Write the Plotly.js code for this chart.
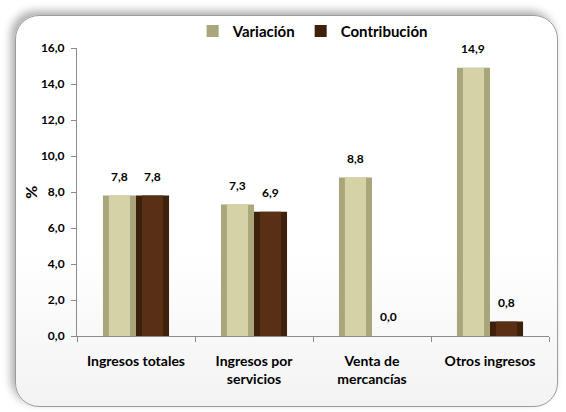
<!DOCTYPE html>
<html>
<head>
<meta charset="utf-8">
<script src="https://cdn.plot.ly/plotly-3.0.1.min.js"></script>
<style>
  html, body { margin:0; padding:0; background:#ffffff; }
  #wrap { position:relative; width:566px; height:412px; overflow:hidden; background:#ffffff; }
  #frame { position:absolute; left:15px; top:15px; width:541px; height:390px;
           border:1px solid #9c9c9c; border-radius:24px;
           background:linear-gradient(#ffffff 0%, #ffffff 60%, #f3f3f3 100%);
           box-shadow:-4px -4px 8px rgba(0,0,0,0.32); }
  #chart { position:absolute; left:0; top:0; width:566px; height:412px; }
</style>
</head>
<body>
<div id="wrap">
  <div id="frame"></div>
  <div id="chart"></div>
</div>
<script>
const categories = ["Ingresos totales", "Ingresos por<br>servicios", "Venta de<br>mercancías", "Otros ingresos"];
const variacion = [7.8, 7.3, 8.8, 14.9];
const contribucion = [7.8, 6.9, 0.0, 0.8];
const seriesNames = ["Variación", "Contribución"];
const yTicks = [0, 2, 4, 6, 8, 10, 12, 14, 16];

const FONT = "Lato, 'Open Sans', sans-serif";
const W = 0.28;

function barTrace(y, offset, width, color, name, legend) {
  return {
    type: "bar", x: categories, y: y, offset: offset, width: width,
    marker: { color: color, line: { width: 0 } },
    name: name, showlegend: legend, hoverinfo: legend ? "x+y" : "skip",
    legendgroup: name
  };
}

const traces = [
  barTrace(variacion, -W, W, "#a9a67b", seriesNames[0], true),
  barTrace(variacion, -W + W * 0.18, W * 0.64, "#d5d2a6", seriesNames[0], false),
  barTrace(contribucion, 0, W, "#3f210b", seriesNames[1], true),
  barTrace(contribucion, W * 0.18, W * 0.64, "#573015", seriesNames[1], false)
];

const fmt = v => v.toFixed(1).replace(".", ",");
const annotations = [];
categories.forEach((c, i) => {
  annotations.push({ x: i - W / 2, y: variacion[i], xref: "x", yref: "y", text: fmt(variacion[i]),
    showarrow: false, xanchor: "center", yanchor: "bottom", yshift: 10, font: { family: FONT, size: 12, weight: 700, color: "#000" } });
  annotations.push({ x: i + W / 2, y: contribucion[i], xref: "x", yref: "y", text: fmt(contribucion[i]),
    showarrow: false, xanchor: "center", yanchor: "bottom", yshift: 10, font: { family: FONT, size: 12, weight: 700, color: "#000" } });
});
annotations.push({ x: -0.1, y: 0.5, xref: "paper", yref: "paper", text: "%", textangle: -90,
  xanchor: "center", yanchor: "middle",
  showarrow: false, font: { family: FONT, size: 16, weight: 700, color: "#000" } });

const layout = {
  width: 566, height: 412,
  margin: { l: 77, r: 17, t: 48, b: 76 },
  paper_bgcolor: "rgba(0,0,0,0)", plot_bgcolor: "rgba(0,0,0,0)",
  separators: ",.",
  barmode: "overlay",
  font: { family: FONT, size: 12, color: "#000", weight: 700 },
  showlegend: true,
  legend: { orientation: "h", x: 0.245, xanchor: "left", y: 1.058, yanchor: "middle",
            font: { family: FONT, size: 15, weight: 700, color: "#000" },
            bgcolor: "rgba(0,0,0,0)", itemwidth: 30, traceorder: "normal" },
  xaxis: { type: "category", showline: true, linecolor: "#8c8c8c", linewidth: 1,
           ticks: "outside", ticklen: 5, tickcolor: "#8c8c8c", tickson: "boundaries",
           showgrid: false, zeroline: false, ticklabelstandoff: 12,
           tickfont: { family: FONT, size: 14, weight: 700, color: "#000" }, fixedrange: true },
  yaxis: { range: [0, 16], tickvals: yTicks, tickformat: ".1f", showline: true,
           linecolor: "#8c8c8c", linewidth: 1, ticks: "outside", ticklen: 5, tickcolor: "#8c8c8c",
           showgrid: false, zeroline: false, ticklabelstandoff: 4,
           tickfont: { family: FONT, size: 12, weight: 700, color: "#000" } },
  annotations: annotations
};

Plotly.newPlot("chart", traces, layout, { displayModeBar: false, staticPlot: true });
</script>
</body>
</html>
